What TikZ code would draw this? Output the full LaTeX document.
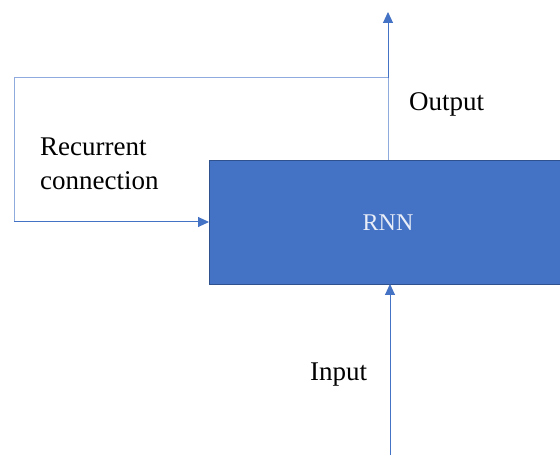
\documentclass[tikz,border=0pt]{standalone}
\usepackage{fontspec}
\setmainfont{Liberation Serif}
\usetikzlibrary{arrows.meta}
\definecolor{accent}{HTML}{4472C4}
\definecolor{lightln}{HTML}{8FAADC}
\definecolor{boxedge}{HTML}{2F528F}
\tikzset{
  lbl/.style={font=\fontsize{27}{34}\selectfont, inner sep=0pt, align=left},
  tip/.style={-{Triangle[length=11pt,width=10pt]}, accent},
}
\begin{document}
\begin{tikzpicture}[x=1pt,y=-1pt]
\useasboundingbox (0,0) rectangle (560,457);
\node[draw=boxedge, line width=1.2pt, fill=accent, minimum width=351pt, minimum height=124pt, anchor=north west, inner sep=0pt] (rnn) at (209,160) {};
\node[text=white!88!accent, font=\fontsize{24}{28}\selectfont] (rnnlbl) at (388,223) {RNN};
\coordinate (outtop) at (388,12);
\coordinate (tap) at (388,78);
\coordinate (lefttop) at (14,78);
\coordinate (leftbot) at (14,222);
\coordinate (inbot) at (390,455);
\coordinate (inend) at (390,284);
\coordinate (outbase) at (388,160);
\draw[lightln, line width=1pt] (outbase) -- (tap);
\draw[lightln, line width=1pt, tip] (tap) -- (outtop);
\draw[lightln, line width=1pt] (tap) -- (lefttop) -- (leftbot);
\draw[lightln, line width=1pt, tip] (leftbot) -- (rnn.west |- leftbot);
\draw[accent, line width=1pt, tip] (inbot) -- (inend);
\node[lbl, anchor=west] (outlbl) at (409,104) {Output};
\node[lbl, anchor=west] (reclbl) at (40,164) {Recurrent\\connection};
\node[lbl, anchor=west] (inlbl) at (310,375) {Input};
\end{tikzpicture}
\end{document}
